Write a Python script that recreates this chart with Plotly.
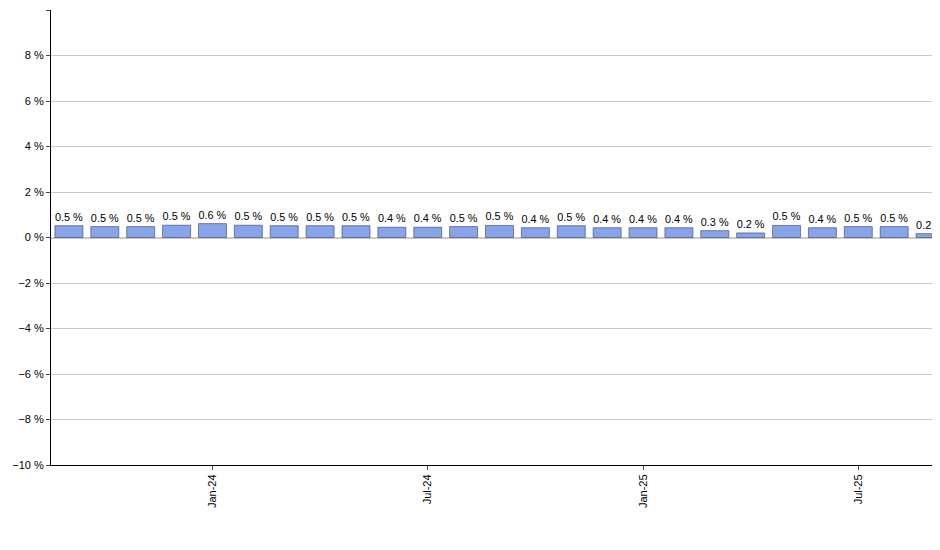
import plotly.graph_objects as go

months = ["Sep-23", "Oct-23", "Nov-23", "Dec-23", "Jan-24", "Feb-24", "Mar-24", "Apr-24",
          "May-24", "Jun-24", "Jul-24", "Aug-24", "Sep-24", "Oct-24", "Nov-24", "Dec-24",
          "Jan-25", "Feb-25", "Mar-25", "Apr-25", "May-25", "Jun-25", "Jul-25", "Aug-25", "Sep-25"]
values = [0.52, 0.48, 0.48, 0.54, 0.61, 0.54, 0.52, 0.52, 0.52, 0.45, 0.45, 0.48, 0.53,
          0.43, 0.52, 0.43, 0.43, 0.43, 0.30, 0.20, 0.53, 0.43, 0.48, 0.48, 0.17]
labels = ["0.5", "0.5", "0.5", "0.5", "0.6", "0.5", "0.5", "0.5", "0.5", "0.4", "0.4", "0.5", "0.5",
          "0.4", "0.5", "0.4", "0.4", "0.4", "0.3", "0.2", "0.5", "0.4", "0.5", "0.5", "0.2"]
tick_months = ["Jan-24", "Jul-24", "Jan-25", "Jul-25"]

fig = go.Figure()
fig.add_trace(go.Bar(
    x=months, y=values,
    text=[f"{t} %" for t in labels], textposition="outside",
    textfont=dict(size=11, color="black"), cliponaxis=False,
    marker=dict(color="#88a4e8", line=dict(color="#34406a", width=0.6)),
    width=0.78,
))
fig.update_layout(
    width=940, height=550, plot_bgcolor="white", paper_bgcolor="white",
    margin=dict(l=43, r=0, t=2, b=93), showlegend=False,
    font=dict(family="Liberation Sans, Arial", size=11, color="black"),
    xaxis=dict(tickmode="array", tickvals=tick_months, ticktext=tick_months,
               tickangle=-90, ticks="outside", ticklen=4, showline=True,
               linecolor="black", showgrid=False),
    yaxis=dict(range=[-10, 10], dtick=2, ticksuffix=" %", gridcolor="#c8c8c8",
               showline=True, linecolor="black", ticks="outside", ticklen=4,
               zeroline=True, zerolinecolor="#c8c8c8", fixedrange=True),
)
fig.write_html("out.html")
